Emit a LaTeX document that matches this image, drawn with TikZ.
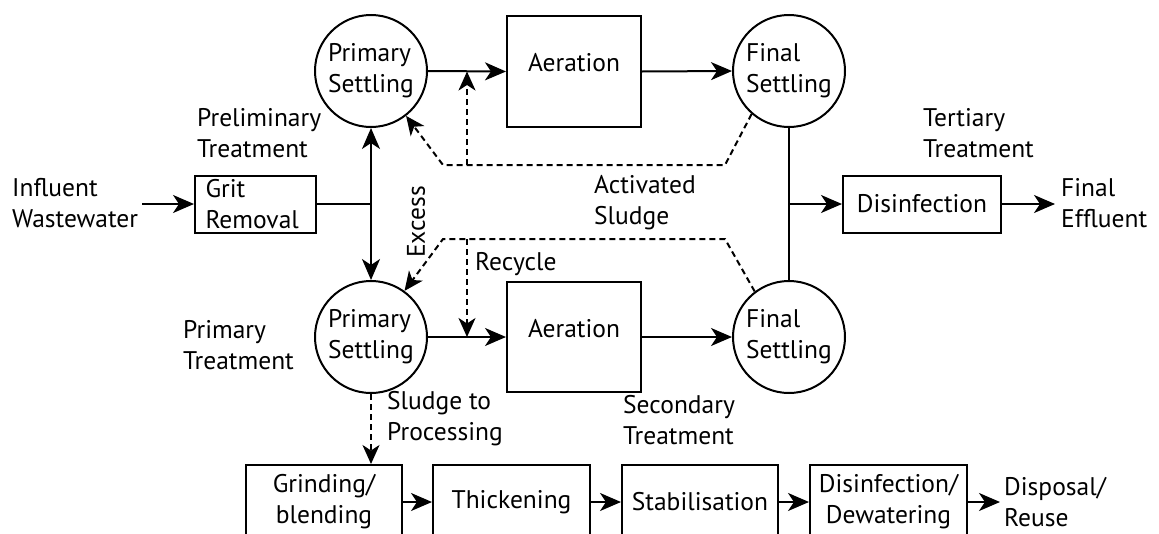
\documentclass[tikz,border=0pt]{standalone}
\usepackage{fontspec}
\setmainfont{PT Sans}
\usetikzlibrary{arrows.meta}
\begin{document}
\begin{tikzpicture}[x=1pt,y=-1pt,
  every node/.style={font=\fontsize{25.5}{31}\selectfont, inner sep=0pt},
  line/.style={line width=2pt},
  arr/.style={line width=2pt, -{Stealth[length=21pt,width=18pt,inset=6pt]}},
  dsh/.style={line width=2pt, dash pattern=on 6pt off 4pt},
  darr/.style={dsh, -{Stealth[length=19pt,width=17pt,inset=5.5pt]}},
  settle/.style={circle, draw, line width=2pt, minimum size=112pt, align=left},
  box/.style={rectangle, draw, line width=2pt},
  lbl/.style={align=left, anchor=west}
]
\useasboundingbox (0,0) rectangle (1159,533);

% main nodes
\node[box, minimum width=121pt, minimum height=57pt, align=left, text width=100pt] (grit) at (255.5,204) {Grit\\Removal};
\node[settle] (ps1) at (371,71) {Primary\\Settling};
\node[box, minimum width=134pt, minimum height=111pt] (aer1) at (574,71.5) {};
\node (aer1t) at (574,63) {Aeration};
\node[settle] (fs1) at (789,71) {Final\\Settling};
\node[settle] (ps2) at (371,337) {Primary\\Settling};
\node[box, minimum width=134pt, minimum height=110pt] (aer2) at (574,337) {};
\node (aer2t) at (574,329) {Aeration};
\node[settle] (fs2) at (789,337) {Final\\Settling};
\node[box, minimum width=158pt, minimum height=57pt] (dis) at (922,204) {Disinfection};

% sludge line boxes
\node[box, minimum width=156pt, minimum height=74pt, align=center] (grind) at (324,502) {Grinding/\\blending};
\node[box, minimum width=157pt, minimum height=74pt] (thick) at (511.5,502) {Thickening};
\node[box, minimum width=156pt, minimum height=74pt] (stab) at (700,502) {Stabilisation};
\node[box, minimum width=157pt, minimum height=74pt, align=center] (dewat) at (888.5,502) {Disinfection/\\Dewatering};

% labels
\node[lbl] (infl) at (12,203) {Influent\\Wastewater};
\node[lbl] (prelim) at (197,133) {Preliminary\\Treatment};
\node[lbl] (tert) at (923,133) {Tertiary\\Treatment};
\node[lbl] (final) at (1061,203) {Final\\Effluent};
\node[lbl] (act) at (594,203) {Activated\\Sludge};
\node[rotate=90] (excess) at (416,222) {Excess};
\node[lbl] (recyc) at (475,264) {Recycle};
\node[lbl] (primT) at (183,345) {Primary\\Treatment};
\node[lbl] (sludge) at (387,419) {Sludge to\\Processing};
\node[lbl] (secT) at (623,420) {Secondary\\Treatment};
\node[lbl] (disp) at (1004,502) {Disposal/\\Reuse};

% coordinates
\coordinate (inS) at (142,204);
\coordinate (j) at (371,204);
\coordinate (k) at (789,204);
\coordinate (feE) at (1055,204);
\coordinate (dspE) at (1000,502);
\coordinate (t1) at (725,165);
\coordinate (t2) at (443,165);
\coordinate (t3) at (467,165);
\coordinate (t4) at (467,71.5);
\coordinate (b1) at (725,239);
\coordinate (b2) at (443,239);
\coordinate (b3) at (467,239);
\coordinate (b4) at (467,337);

% main flow
\draw[arr] (inS) -- (grit.west);
\draw[line] (grit.east) -- (j);
\draw[arr] (j) -- (ps1.south);
\draw[arr] (j) -- (ps2.north);
\draw[arr] (ps1.east) -- (aer1.west);
\draw[arr] (aer1.east) -- (fs1.west);
\draw[arr] (ps2.east) -- (aer2.west);
\draw[arr] (aer2.east) -- (fs2.west);
\draw[line] (fs1.south) -- (fs2.north);
\draw[arr] (k) -- (dis.west);
\draw[arr] (dis.east) -- (feE);

% recycled sludge
\draw[darr] (fs1.229) -- (t1) -- (t2) -- (ps1.-52);
\draw[darr] (t3) -- (t4);
\draw[darr] (fs2.127) -- (b1) -- (b2) -- (ps2.54);
\draw[darr] (b3) -- (b4);
\draw[darr] (ps2.south) -- (ps2.south |- grind.north);

% sludge processing
\draw[arr] (grind.east) -- (thick.west);
\draw[arr] (thick.east) -- (stab.west);
\draw[arr] (stab.east) -- (dewat.west);
\draw[arr] (dewat.east) -- (dspE);
\end{tikzpicture}
\end{document}
